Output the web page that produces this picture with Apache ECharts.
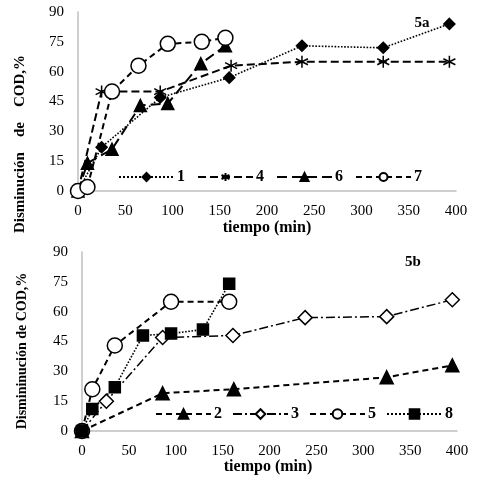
<!DOCTYPE html>
<html><head><meta charset="utf-8">
<script src="https://cdn.jsdelivr.net/npm/echarts@6/dist/echarts.min.js"></script>
<style>html,body{margin:0;padding:0;background:#fff}#c{width:483px;height:477px}</style>
</head><body><div id="c"></div>
<script>
// Panel 5a
const s1 = [[0,0],[25,22],[87,47],[160,57],[237,73],[323,72],[393,84]];
const s4 = [[0,0],[25,50],[87,50],[162,63],[237,65],[323,65],[393,65]];
const s6 = [[0,0],[10,14],[36,21],[66,43],[95,44],[130,64],[156,73]];
const s7 = [[0,0],[10,2],[36,50],[64,63],[95,74],[131,75],[156,77]];
// Panel 5b
const s2 = [[0,0],[86,19],[162,21],[325,27],[395,33]];
const s3 = [[0,0],[26,15],[86,47],[161,48],[238,57],[325,57.5],[395,66]];
const s5 = [[0,0],[11,21],[35,43],[95,65],[157,65]];
const s8 = [[0,0],[11,11],[35,22],[65,48],[95,49],[129,51],[157,74]];
const origin = [[0,0]];
const xTicks = [0,50,100,150,200,250,300,350,400];
const yTicks = [0,15,30,45,60,75,90];

const SERIF = '"Liberation Serif","Times New Roman",serif';
const star = 'path://M5,0L5,10M0.7,2.5L9.3,7.5M0.7,7.5L9.3,2.5';

function xAx(i){return {gridIndex:i,type:'value',min:xTicks[0],max:xTicks[xTicks.length-1],interval:xTicks[1]-xTicks[0],
  axisLine:{lineStyle:{color:'#bfbfbf',width:1.5}},axisTick:{show:false},splitLine:{show:false},
  axisLabel:{color:'#000',fontFamily:SERIF,fontSize:15,margin:13}};}
function yAx(i){return {gridIndex:i,type:'value',min:yTicks[0],max:yTicks[yTicks.length-1],interval:yTicks[1]-yTicks[0],
  axisLine:{show:true,lineStyle:{color:'#bfbfbf',width:1.5}},axisTick:{show:false},splitLine:{show:false},
  axisLabel:{color:'#000',fontFamily:SERIF,fontSize:15,margin:14}};}

function ser(name,data,idx,symbol,size,fill,dash,width){
  return {name:name,type:'line',data:data,xAxisIndex:idx,yAxisIndex:idx,symbol:symbol,symbolSize:size,
    showAllSymbol:true,animation:false,
    lineStyle:{color:'#000',width:width||1.6,type:dash},
    itemStyle:{color:fill,borderColor:'#000',borderWidth:1.5}};
}

const chart = echarts.init(document.getElementById('c'));
chart.setOption({
  animation:false,
  grid:[{left:78,right:27,top:12,bottom:286},{left:82,right:26,top:252,bottom:46}],
  xAxis:[xAx(0),xAx(1)],
  yAxis:[yAx(0),yAx(1)],
  legend:[
    {data:['1','4','6','7'],left:118,top:169,padding:0,itemWidth:55,itemHeight:10,itemGap:12,
     textStyle:{fontFamily:SERIF,fontSize:16,fontWeight:'bold',color:'#000',padding:[0,0,0,-2]}},
    {data:['2','3','5','8'],left:155,top:406,padding:0,itemWidth:55,itemHeight:12,itemGap:10,
     textStyle:{fontFamily:SERIF,fontSize:16,fontWeight:'bold',color:'#000',padding:[0,0,0,-2]}}
  ],
  series:[
    ser('1',s1,0,'diamond',11,'#000','dotted',1.6),
    ser('4',s4,0,star,12,'none','dashed',2),
    ser('6',s6,0,'triangle',12,'#000',[10,5],2),
    ser('7',s7,0,'circle',15,'#fff',[6,4],2),
    ser('2',s2,1,'triangle',13,'#000',[6,4],2),
    ser('3',s3,1,'diamond',14,'#fff',[9,3,2,3],1.5),
    ser('5',s5,1,'circle',15,'#fff',[6,4],2),
    ser('8',s8,1,'rect',11,'#000','dotted',1.6),
    {name:'origin',type:'scatter',data:origin,xAxisIndex:1,yAxisIndex:1,symbol:'circle',symbolSize:15,
     itemStyle:{color:'#000'},z:5}
  ],
  graphic:[
    {type:'text',x:20,y:144,rotation:Math.PI/2,style:{text:'Disminución    de    COD,%',font:'bold 15px '+SERIF,fill:'#000',textAlign:'center',textVerticalAlign:'middle'}},
    {type:'text',x:22,y:351,rotation:Math.PI/2,style:{text:'Dismininución de COD,%',font:'bold 14px '+SERIF,fill:'#000',textAlign:'center',textVerticalAlign:'middle'}},
    {type:'text',x:267,y:228,style:{text:'tiempo (min)',font:'bold 16px '+SERIF,fill:'#000',textAlign:'center',textVerticalAlign:'middle'}},
    {type:'text',x:268,y:467,style:{text:'tiempo (min)',font:'bold 16px '+SERIF,fill:'#000',textAlign:'center',textVerticalAlign:'middle'}},
    {type:'text',x:422,y:23,style:{text:'5a',font:'bold 15px '+SERIF,fill:'#000',textAlign:'center',textVerticalAlign:'middle'}},
    {type:'text',x:413,y:262,style:{text:'5b',font:'bold 15px '+SERIF,fill:'#000',textAlign:'center',textVerticalAlign:'middle'}}
  ]
});
</script></body></html>
